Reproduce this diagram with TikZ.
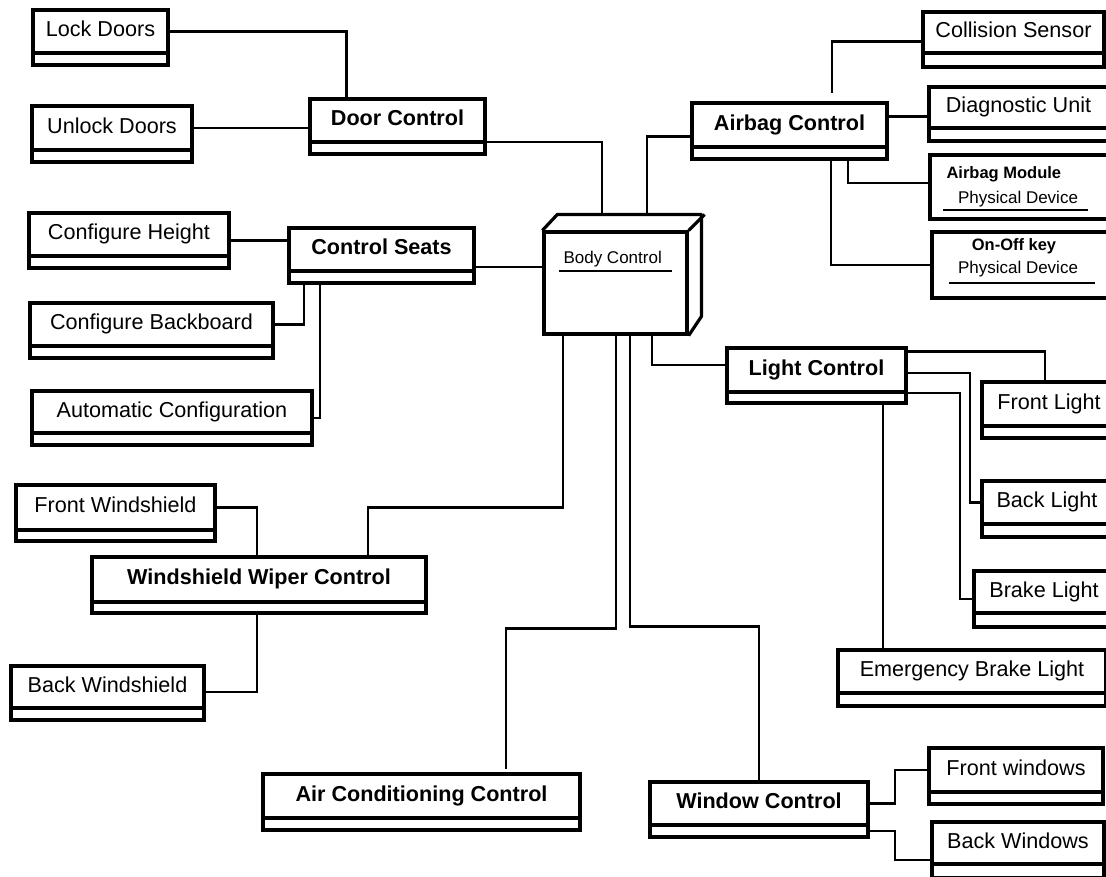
\documentclass[tikz,border=0pt]{standalone}
\usepackage{fontspec}
\setmainfont{Liberation Sans}
\usetikzlibrary{calc}

\tikzset{
  boxline/.style={line width=3.2pt, line join=round},
  cbox/.style={draw, line width=3.2pt, rectangle, inner sep=0pt, outer sep=0pt,
               text height=15pt, text depth=5pt, align=center},
  cfoot/.style={cbox, text height=0pt, text depth=0pt},
  plainname/.style={font=\fontsize{21.6}{24}\selectfont},
  boldname/.style={font=\fontsize{21.6}{24}\selectfont\bfseries},
  smalltext/.style={font=\fontsize{17}{19}\selectfont},
  smallbold/.style={font=\fontsize{16.5}{18}\selectfont\bfseries},
  wire/.style={line width=2.7pt},
}

% #1 name, #2 left, #3 top, #4 right, #5 divider, #6 bottom, #7 style, #8 text
\newcommand\classbox[8]{%
  \node[cbox,#7,minimum width={#4-#2},minimum height={#5-#3}] (#1)
       at ({(#2+#4)/2},{(#3+#5)/2}) {#8};
  \node[cfoot,minimum width={#4-#2},minimum height={#6-#5}] (#1-b)
       at ({(#2+#4)/2},{(#5+#6)/2}) {};
}

\begin{document}
\begin{tikzpicture}[x=1pt,y=-1pt]
\useasboundingbox (0,0) rectangle (1106,876);

% door group
\classbox{lock}{33}{10}{168}{53}{65}{plainname}{Lock Doors}
\classbox{unlock}{32}{106}{192}{150}{162}{plainname}{Unlock Doors}
\classbox{door}{310}{99}{485}{142}{154}{boldname}{Door Control}

% seat group
\classbox{height}{29}{213}{229}{256}{268}{plainname}{Configure Height}
\classbox{seats}{289}{228}{474}{271}{283}{boldname}{Control Seats}
\classbox{backboard}{30}{303}{273}{346}{358}{plainname}{Configure Backboard}
\classbox{auto}{32}{391}{312}{433}{445}{plainname}{Automatic Configuration}

% airbag group
\classbox{airbag}{692}{103}{887}{147}{159}{boldname}{Airbag Control}
\classbox{collision}{923}{12}{1104}{53}{67}{plainname}{Collision Sensor}
\classbox{diag}{929}{87}{1108}{128}{141}{plainname}{Diagnostic Unit}

\node[draw, line width=3.2pt, inner sep=0pt, minimum width=180, minimum height=64] (module) at (1020,187) {};
\node[smallbold, anchor=base west] (moduletitle) at (943,178) {Airbag Module};
\node[smalltext, anchor=base] (moduletype) at (1018,203) {Physical Device};
\draw[line width=2pt] (943,210) -- (1088,210);

\node[draw, line width=3.2pt, inner sep=0pt, minimum width=180, minimum height=66] (onoff) at (1022,265) {};
\node[smallbold, anchor=base] (onofftitle) at (1014,250) {On-Off key};
\node[smalltext, anchor=base] (onofftype) at (1018,273) {Physical Device};
\draw[line width=2pt] (949,283) -- (1095,283);

% light group
\classbox{light}{727}{348}{906}{392}{403}{boldname}{Light Control}
\classbox{frontlight}{982}{382}{1116}{426}{438}{plainname}{Front Light}
\classbox{backlight}{982}{481}{1112}{524}{537}{plainname}{Back Light}
\classbox{brake}{974}{571}{1114}{613}{627}{plainname}{Brake Light}
\classbox{emergency}{838}{650}{1106}{693}{706}{plainname}{Emergency Brake Light}

% wiper group
\classbox{fws}{16}{485}{215}{530}{541}{plainname}{Front Windshield}
\classbox{wiper}{92}{557}{426}{602}{613}{boldname}{Windshield Wiper Control}
\classbox{bws}{11}{666}{204}{708}{720}{plainname}{Back Windshield}

% air conditioning and windows
\classbox{ac}{263}{774}{580}{818}{830}{boldname}{Air Conditioning Control}
\classbox{window}{650}{782}{868}{825}{837}{boldname}{Window Control}
\classbox{fwin}{929}{748}{1103}{792}{804}{plainname}{Front windows}
\classbox{bwin}{932}{822}{1104}{864}{878}{plainname}{Back Windows}

% central body control node (3-D box)
\node[draw, line width=3.2pt, inner sep=0pt, minimum width=143, minimum height=102] (body) at (615.5,283) {};
\draw[boxline] (body.north west) -- ++(15,-16) -- ++(144,0) -- ++(0,102) -- (body.south east);
\draw[boxline] (body.north east) -- ++(16,-16);
\node[smalltext, anchor=base west] (bodylabel) at (560,263) {Body Control};
\draw[line width=1.5pt] (559,271) -- (672,271);

% connectors: doors
\draw[wire] (lock.east) -| ([xshift=-51pt]door.north);
\draw[wire] (unlock.east) -- (unlock.east -| door.west);
\draw[wire] (door.south east) -| ([xshift=-13.5pt,yshift=16pt]body.north);

% connectors: airbag
\draw[wire] ([yshift=-11.7pt]airbag.west) -| ([xshift=31.5pt,yshift=16pt]body.north);
\draw[wire, shorten >=10pt] ([yshift=-9.2pt]collision.west) -| ([xshift=42.5pt]airbag.north);
\coordinate (a1) at ([yshift=8.3pt]airbag.east);
\draw[wire] (a1) -- (a1 -| diag.west);
\draw[wire] ([xshift=58.5pt]airbag-b.south) |- ([yshift=4pt]module.west);
\draw[wire] ([xshift=41.5pt]airbag-b.south) |- (onoff.west);

% connectors: seats
\coordinate (s1) at ([yshift=-17.5pt]seats.east);
\draw[wire] (s1) -- (s1 -| body.west);
\coordinate (h1) at ([yshift=-6.2pt]height.east);
\draw[wire] (h1) -- (h1 -| seats.west);
\draw[wire] ([xshift=-77.5pt]seats-b.south) |- (backboard.east);
\draw[wire] ([xshift=-61.5pt]seats-b.south) |- ([yshift=-6pt]auto.east);

% connectors: wiper
\coordinate (b1) at ([xshift=-52.5pt]body.south);
\draw[wire] (b1) -- (b1 |- fws.east) -| ([xshift=109pt]wiper.north);
\draw[wire] (fws.east) -| ([xshift=-2pt]wiper.north);
\draw[wire] ([xshift=-2pt]wiper-b.south) |- ([yshift=-5pt]bws.east);

% connectors: air conditioning and windows
\draw[wire, shorten >=5pt] ([xshift=0.5pt]body.south) -- ++(0,293) -| ([xshift=84.5pt]ac.north);
\draw[wire] ([xshift=14.5pt]body.south) -- ++(0,291) -| (window.north);
\draw[wire] (window.east) -- ++(27,0) |- (fwin.west);
\draw[wire] (window-b.east) -- ++(27,0) |- ([yshift=-17pt]bwin.west);

% connectors: lights
\draw[wire] ([xshift=36.5pt]body.south) |- ([yshift=5pt]light.west);
\draw[wire] ([yshift=18.3pt]light.east) -| ([xshift=-4pt]frontlight.north);
\draw[wire] ([yshift=-3pt]light.east) -| ([xshift=-12pt]backlight.west) -- (backlight.west);
\draw[wire] ([yshift=-23pt]light.east) -| ([xshift=-14pt,yshift=-7pt]brake.west) -- ([yshift=-7pt]brake.west);
\coordinate (l1) at ([xshift=66.5pt]light-b.south);
\draw[wire] (l1) -- (l1 |- emergency.north);
\end{tikzpicture}
\end{document}
